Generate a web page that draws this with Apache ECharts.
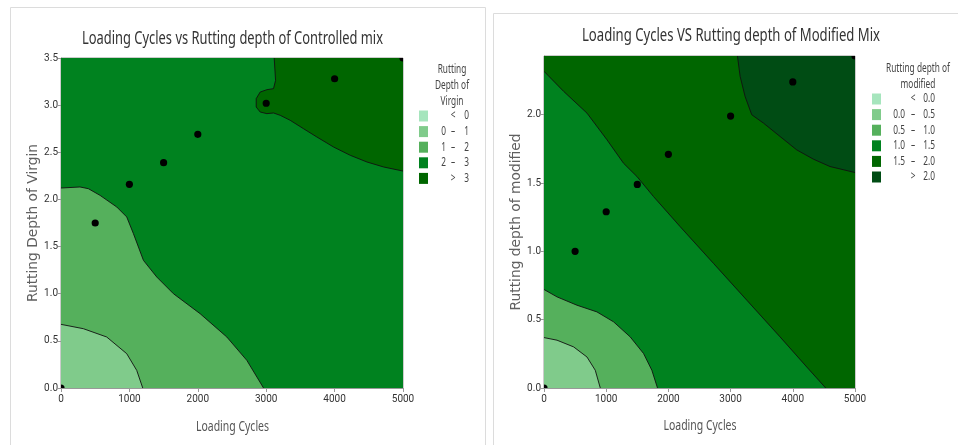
<!DOCTYPE html>
<html>
<head>
<meta charset="utf-8">
<script src="https://cdn.jsdelivr.net/npm/echarts@6/dist/echarts.min.js"></script>
<style>
  html, body { margin: 0; padding: 0; background: #fff; }
  #chart { width: 958px; height: 445px; }
</style>
</head>
<body>
<div id="chart"></div>
<script>
// Measured points: loading cycles and rutting depth of each mix
const loadingCycles = [0, 500, 1000, 1500, 2000, 3000, 4000, 5000];
const rutControlled = [0, 1.75, 2.16, 2.39, 2.69, 3.02, 3.28, 3.5];
const rutModified = [0, 1.0, 1.29, 1.49, 1.71, 1.99, 2.24, 2.43];

// Axis ticks
const xTicks = [0, 1000, 2000, 3000, 4000, 5000];
const yTicksControlled = [0, 0.5, 1, 1.5, 2, 2.5, 3, 3.5];
const yTicksModified = [0, 0.5, 1, 1.5, 2];

// Contour level breaks for the two legends
const controlledBreaks = [0, 1, 2, 3];
const modifiedBreaks = [0, 0.5, 1, 1.5, 2];
const bandColors = ['#a6e5bd', '#80cb8b', '#55b05c', '#00821f', '#006600', '#004c14'];

// Contour lines [loading cycles, rutting depth] — controlled mix
const controlledC1 = [[0, 0.675], [327, 0.629], [668, 0.541], [961, 0.364], [1107, 0.187], [1195, 0]];
const controlledC2 = [[0, 2.121], [278, 2.132], [400, 2.114], [571, 2.043], [815, 1.92], [961, 1.814],
  [1059, 1.637], [1205, 1.354], [1400, 1.177], [1644, 1.0], [2034, 0.788], [2424, 0.541], [2717, 0.293], [2961, 0]];
const controlledC3 = [[3117, 3.5], [3137, 3.263], [3107, 3.175], [3010, 3.164], [2912, 3.139], [2854, 3.069],
  [2854, 2.98], [2912, 2.927], [3010, 2.91], [3107, 2.917], [3205, 2.892], [3351, 2.839], [3546, 2.75],
  [3741, 2.662], [3985, 2.556], [4229, 2.468], [4473, 2.397], [4717, 2.344], [5000, 2.301]];

// Contour lines — modified mix
const modifiedC05 = [[0, 0.369], [209, 0.35], [476, 0.301], [691, 0.227], [824, 0.13], [905, 0]];
const modifiedC10 = [[0, 0.721], [209, 0.667], [530, 0.606], [851, 0.557], [1119, 0.484], [1386, 0.374],
  [1601, 0.252], [1734, 0.13], [1825, 0]];
const modifiedC15 = [[0, 2.318], [316, 2.171], [691, 2.012], [1012, 1.817], [1279, 1.645], [1494, 1.548],
  [1761, 1.401], [2189, 1.181], [2725, 0.912], [3260, 0.643], [3795, 0.374], [4224, 0.154], [4529, 0]];
const modifiedC20 = [[3110, 2.43], [3153, 2.281], [3233, 2.134], [3340, 2.0], [3528, 1.939], [3795, 1.841],
  [4063, 1.743], [4331, 1.675], [4598, 1.621], [5000, 1.577]];

const xMax = 5000;
const yMaxControlled = 3.5;
const yMaxModified = 2.43;

const SANS = "'Noto Sans', 'Open Sans', sans-serif";
const TICK_FONT = "Roboto, 'Noto Sans', sans-serif";

// Width measurement for condensing text to a set span
const measureCtx = document.createElement('canvas').getContext('2d');
function textWidth(str, size) {
  measureCtx.font = size + 'px ' + SANS;
  return measureCtx.measureText(str).width;
}
function fittedText(str, x, y, size, width, color) {
  return {
    type: 'text', x: x, y: y, scaleX: width / textWidth(str, size), z: 10,
    style: { text: str, fontFamily: SANS, fontSize: size, fill: color, align: 'center', verticalAlign: 'middle' }
  };
}

// Filled bands, painted in order; each may carry its contour line
const controlledRegions = [
  { ring: [[0, 0], [xMax, 0], [xMax, yMaxControlled], [0, yMaxControlled]], color: bandColors[3] },
  { ring: controlledC2.concat([[0, 0]]), line: controlledC2, color: bandColors[2] },
  { ring: controlledC1.concat([[0, 0]]), line: controlledC1, color: bandColors[1] },
  { ring: controlledC3.concat([[xMax, yMaxControlled]]), line: controlledC3, color: bandColors[4] }
];
const modifiedRegions = [
  { ring: [[0, 0], [xMax, 0], [xMax, yMaxModified], [0, yMaxModified]], color: bandColors[3] },
  { ring: modifiedC15.concat([[xMax, 0], [xMax, yMaxModified], [0, yMaxModified]]), line: modifiedC15, color: bandColors[4] },
  { ring: modifiedC20.concat([[xMax, yMaxModified]]), line: modifiedC20, color: bandColors[5] },
  { ring: modifiedC10.concat([[0, 0]]), line: modifiedC10, color: bandColors[2] },
  { ring: modifiedC05.concat([[0, 0]]), line: modifiedC05, color: bandColors[1] }
];

function regionSeries(idx, regions) {
  return {
    type: 'custom',
    xAxisIndex: idx,
    yAxisIndex: idx,
    silent: true,
    clip: true,
    data: regions.map(r => [r.ring[0][0], r.ring[0][1]]),
    encode: { x: 0, y: 1 },
    renderItem: function (params, api) {
      const r = regions[params.dataIndex];
      const children = [{
        type: 'polygon',
        z2: params.dataIndex * 2,
        shape: { points: r.ring.map(p => api.coord(p)) },
        style: { fill: r.color, stroke: null }
      }];
      if (r.line) {
        children.push({
          type: 'polyline',
          z2: params.dataIndex * 2 + 1,
          shape: { points: r.line.map(p => api.coord(p)) },
          style: { stroke: '#111', lineWidth: 0.9, fill: null }
        });
      }
      return { type: 'group', children: children };
    }
  };
}

// Data points, clipped to the plot frame
function pointSeries(idx, ys) {
  return {
    type: 'custom',
    xAxisIndex: idx,
    yAxisIndex: idx,
    clip: true,
    silent: true,
    z: 5,
    data: loadingCycles.map((x, i) => [x, ys[i]]),
    encode: { x: 0, y: 1 },
    renderItem: function (params, api) {
      const p = api.coord([api.value(0), api.value(1)]);
      return { type: 'circle', shape: { cx: p[0], cy: p[1], r: 3.6 }, style: { fill: '#000' } };
    }
  };
}

function xAxis(idx) {
  return {
    type: 'value', gridIndex: idx, min: 0, max: xMax, interval: 1000,
    axisLine: { show: true, lineStyle: { color: '#999' } },
    axisTick: { show: true, length: 4, lineStyle: { color: '#999' }, customValues: xTicks },
    axisLabel: { fontFamily: TICK_FONT, fontSize: 10, color: '#333', margin: 6,
      customValues: xTicks, formatter: v => String(v) },
    splitLine: { show: false }
  };
}

function yAxis(idx, name, max, ticks, gap) {
  return {
    type: 'value', gridIndex: idx, min: 0, max: max, interval: 0.5,
    name: name, nameLocation: 'middle', nameGap: gap, nameRotate: 90,
    nameTextStyle: { fontFamily: "'DejaVu Sans', sans-serif", fontSize: 13.8, color: '#606060' },
    axisLine: { show: true, lineStyle: { color: '#999' } },
    axisTick: { show: true, length: 3, lineStyle: { color: '#999' }, customValues: ticks },
    axisLabel: { fontFamily: TICK_FONT, fontSize: 10, color: '#333', margin: 3,
      customValues: ticks, formatter: v => v.toFixed(1) },
    splitLine: { show: false }
  };
}

// Legend blocks built from the level breaks
const LEGEND_SIZE = 12;
const legendScale = 34 / textWidth('Depth of', LEGEND_SIZE);
function legendText(str, x, y, align) {
  return {
    type: 'text', x: x, y: y, scaleX: legendScale,
    style: { text: str, fontFamily: SANS, fontSize: LEGEND_SIZE, fill: '#444', align: align, verticalAlign: 'middle' }
  };
}
function legendGraphics(opts) {
  const els = [];
  opts.title.forEach((t, i) => {
    els.push(legendText(t, opts.titleX, opts.titleY + i * opts.titleStep, 'center'));
  });
  const b = opts.breaks;
  const rows = [['', '<', opts.fmt(b[0])]];
  for (let i = 0; i < b.length - 1; i++) rows.push([opts.fmt(b[i]), '–', opts.fmt(b[i + 1])]);
  rows.push(['', '>', opts.fmt(b[b.length - 1])]);
  rows.forEach((row, i) => {
    const cy = opts.rowY + i * opts.rowStep;
    els.push({ type: 'rect', shape: { x: opts.boxX, y: cy - 5.5, width: 9, height: 11 },
      style: { fill: bandColors[i] } });
    els.push(legendText(row[0], opts.lowX, cy, 'right'));
    els.push(legendText(row[1], opts.symX, cy, 'center'));
    els.push(legendText(row[2], opts.highX, cy, 'right'));
  });
  return els;
}

const chart = echarts.init(document.getElementById('chart'), null, { renderer: 'canvas' });

const graphics = [
  { type: 'rect', shape: { x: 10.5, y: 7.5, width: 475, height: 460 }, style: { fill: null, stroke: '#dcdcdc', lineWidth: 1 }, z: -1 },
  { type: 'rect', shape: { x: 493.5, y: 13.5, width: 480, height: 460 }, style: { fill: null, stroke: '#dcdcdc', lineWidth: 1 }, z: -1 },
  fittedText('Loading Cycles vs Rutting depth of Controlled mix', 232.5, 39, 18, 301, '#333'),
  fittedText('Loading Cycles VS Rutting depth of Modified Mix', 731, 36, 18, 298, '#333'),
  fittedText('Loading Cycles', 232.5, 427, 14.5, 73, '#555'),
  fittedText('Loading Cycles', 700, 426, 14.5, 73, '#555')
].concat(legendGraphics({
  title: ['Rutting', 'Depth of', 'Virgin'], titleX: 452, titleY: 70, titleStep: 16,
  breaks: controlledBreaks, fmt: v => String(v),
  rowY: 116, rowStep: 15.6, boxX: 419, lowX: 446, symX: 453, highX: 469
})).concat(legendGraphics({
  title: ['Rutting depth of', 'modified'], titleX: 918, titleY: 69, titleStep: 16,
  breaks: modifiedBreaks, fmt: v => v.toFixed(1),
  rowY: 99, rowStep: 15.6, boxX: 872, lowX: 905, symX: 913, highX: 935
}));

chart.setOption({
  animation: false,
  backgroundColor: '#fff',
  grid: [
    { left: 61, top: 58, width: 342, height: 330, show: true, borderColor: '#999', borderWidth: 1, backgroundColor: 'transparent' },
    { left: 544, top: 56, width: 311, height: 332, show: true, borderColor: '#999', borderWidth: 1, backgroundColor: 'transparent' }
  ],
  xAxis: [xAxis(0), xAxis(1)],
  yAxis: [
    yAxis(0, 'Rutting Depth of Virgin', yMaxControlled, yTicksControlled, 16),
    yAxis(1, 'Rutting depth of modified', yMaxModified, yTicksModified, 18)
  ],
  graphic: graphics,
  series: [
    regionSeries(0, controlledRegions),
    pointSeries(0, rutControlled),
    regionSeries(1, modifiedRegions),
    pointSeries(1, rutModified)
  ]
});
</script>
</body>
</html>
